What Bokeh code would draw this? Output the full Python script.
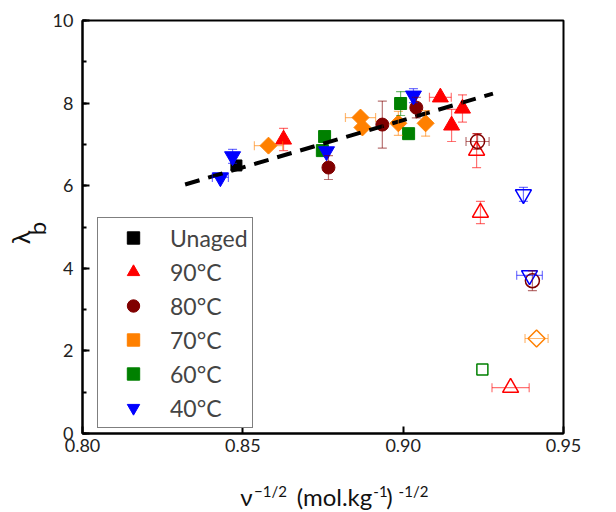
import math
from bokeh.plotting import figure
from bokeh.models import (Range1d, FixedTicker, SingleIntervalTicker, NumeralTickFormatter,
                          Whisker, TeeHead, ColumnDataSource, Legend, LegendItem, LinearAxis)
from bokeh.embed import file_html
from bokeh.resources import INLINE

# ---------------- data ----------------
unaged_x = [0.848]
unaged_y = [6.49]

t90_x = [0.8627, 0.9116, 0.9185, 0.9151]
t90_y = [7.12, 8.14, 7.87, 7.46]
t90_xerr = [0.0, 0.0034, 0.0, 0.0]
t90_yerr = [0.27, 0.0, 0.33, 0.39]
t90o_x = [0.9229, 0.9241, 0.9335]
t90o_y = [6.85, 5.35, 1.11]
t90o_xerr = [0.0, 0.0, 0.0058]
t90o_yerr = [0.41, 0.27, 0.0]

t80_x = [0.8767, 0.8935, 0.9041]
t80_y = [6.44, 7.48, 7.89]
t80_xerr = [0.0, 0.0, 0.0]
t80_yerr = [0.29, 0.57, 0.25]
t80o_x = [0.9232, 0.9403]
t80o_y = [7.07, 3.70]
t80o_xerr = [0.0036, 0.0]
t80o_yerr = [0.19, 0.24]

t70_x = [0.858, 0.8867, 0.8873, 0.8985, 0.9070]
t70_y = [6.97, 7.65, 7.41, 7.51, 7.51]
t70_xerr = [0.0044, 0.0047, 0.0, 0.0, 0.0]
t70_yerr = [0.0, 0.0, 0.0, 0.29, 0.31]
t70o_x = [0.9416]
t70o_y = [2.30]
t70o_xerr = [0.0036]
t70o_yerr = [0.0]

t60_x = [0.8755, 0.8748, 0.8992, 0.9017]
t60_y = [7.19, 6.85, 7.99, 7.26]
t60_xerr = [0.0, 0.0, 0.0, 0.0]
t60_yerr = [0.0, 0.0, 0.29, 0.0]
t60o_x = [0.9247]
t60o_y = [1.55]

t40_x = [0.8468, 0.8430, 0.8761, 0.9032]
t40_y = [6.71, 6.20, 6.83, 8.18]
t40_xerr = [0.0, 0.0025, 0.0, 0.0]
t40_yerr = [0.17, 0.0, 0.0, 0.17]
t40o_x = [0.9375, 0.9394]
t40o_y = [5.79, 3.83]
t40o_xerr = [0.0, 0.004]
t40o_yerr = [0.17, 0.0]

fit_x = [0.832, 0.928]
fit_y = [6.03, 8.23]

x_ticks = [0.80, 0.85, 0.90, 0.95]
legend_labels = ["Unaged", "90°C", "80°C", "70°C", "60°C", "40°C"]

# axis-title pieces: text -> centre position in page pixels
x_title_main = {246: "ν", 334: "(mol.kg", 389: ")"}
x_title_sup = {270: "−1/2", 380: "-1", 413: "-1/2"}
y_title_sub = {228: "b"}
y_title_main = {237: "λ"}

# ---------------- figure ----------------
FONT = "Lato"
FL, FT, FW, FH = 82, 20, 481, 413

p = figure(frame_width=FW, frame_height=FH, output_backend="svg", toolbar_location=None, title=None,
           x_range=Range1d(0.80, 0.95), y_range=Range1d(0, 10),
           min_border_left=FL, min_border_right=50, min_border_top=FT, min_border_bottom=60)
p.xgrid.visible = False
p.ygrid.visible = False
p.outline_line_color = "black"
p.outline_line_width = 2
p.outline_line_alpha = 1

xax = p.below[0]
yax = p.left[0]
xax.ticker = FixedTicker(ticks=x_ticks, minor_ticks=[])
xax.formatter = NumeralTickFormatter(format="0.00")
yax.ticker = SingleIntervalTicker(interval=2, num_minor_ticks=2)
for ax in (xax, yax):
    ax.axis_line_width = 2
    ax.axis_line_color = "black"
    ax.major_tick_in = 7
    ax.major_tick_out = 0
    ax.minor_tick_in = 4
    ax.minor_tick_out = 0
    ax.major_tick_line_width = 2
    ax.minor_tick_line_width = 2
    ax.major_label_text_font = FONT
    ax.major_label_text_font_size = "18px"
    ax.major_label_text_color = "#222222"
yax.major_label_standoff = 9
xax.major_label_standoff = 5

# pixel ranges for the title pieces
p.extra_x_ranges = {"px": Range1d(FL, FL + FW)}
p.extra_y_ranges = {"py": Range1d(FT + FH, FT)}


def title_axis(pieces, side, rng, size, standoff, vertical=False):
    kw = {"x_range_name": rng} if side == "below" else {"y_range_name": rng}
    ticks = sorted(pieces)
    ax = LinearAxis(ticker=FixedTicker(ticks=ticks, minor_ticks=[]),
                    major_label_overrides={t: pieces[t] for t in ticks},
                    axis_line_color=None, major_tick_line_color=None, minor_tick_line_color=None,
                    major_tick_in=0, major_tick_out=0, minor_tick_in=0, minor_tick_out=0,
                    major_label_standoff=standoff, major_label_text_font=FONT,
                    major_label_text_font_size=size, major_label_text_color="#111111", **kw)
    if vertical:
        ax.major_label_orientation = "vertical"
    p.add_layout(ax, side)


title_axis(x_title_sup, "below", "px", "15px", 27)
title_axis(x_title_main, "below", "px", "24px", -21)
title_axis(y_title_sub, "left", "py", "24px", -1, vertical=True)
title_axis(y_title_main, "left", "py", "25px", -16, vertical=True)


def add_err(xs, ys, xerr, yerr, color):
    xi = [i for i, e in enumerate(xerr) if e > 0]
    yi = [i for i, e in enumerate(yerr) if e > 0]
    kw = dict(line_color=color, line_alpha=0.55, line_width=1.2)
    if yi:
        src = ColumnDataSource(dict(b=[xs[i] for i in yi],
                                    lo=[ys[i] - yerr[i] for i in yi],
                                    hi=[ys[i] + yerr[i] for i in yi]))
        p.add_layout(Whisker(source=src, base="b", lower="lo", upper="hi", dimension="height",
                             level="glyph", upper_head=TeeHead(size=9, **kw),
                             lower_head=TeeHead(size=9, **kw), **kw))
    if xi:
        src = ColumnDataSource(dict(b=[ys[i] for i in xi],
                                    lo=[xs[i] - xerr[i] for i in xi],
                                    hi=[xs[i] + xerr[i] for i in xi]))
        p.add_layout(Whisker(source=src, base="b", lower="lo", upper="hi", dimension="width",
                             level="glyph", upper_head=TeeHead(size=9, **kw),
                             lower_head=TeeHead(size=9, **kw), **kw))


RED, DRED, ORANGE, GREEN, BLUE = "#ff0000", "#800000", "#ff8000", "#008000", "#0000ff"

add_err(t90_x, t90_y, t90_xerr, t90_yerr, RED)
add_err(t90o_x, t90o_y, t90o_xerr, t90o_yerr, RED)
add_err(t80_x, t80_y, t80_xerr, t80_yerr, DRED)
add_err(t80o_x, t80o_y, t80o_xerr, t80o_yerr, DRED)
add_err(t70_x, t70_y, t70_xerr, t70_yerr, ORANGE)
add_err(t70o_x, t70o_y, t70o_xerr, t70o_yerr, ORANGE)
add_err(t60_x, t60_y, t60_xerr, t60_yerr, GREEN)
add_err(t40_x, t40_y, t40_xerr, t40_yerr, BLUE)
add_err(t40o_x, t40o_y, t40o_xerr, t40o_yerr, BLUE)

# open symbols
p.scatter(t90o_x, t90o_y, marker="triangle", size=16, fill_color=None, line_color=RED, line_width=1.5)
p.scatter(t80o_x, t80o_y, marker="circle", size=14, fill_color=None, line_color=DRED, line_width=1.5)
p.scatter(t70o_x, t70o_y, marker="square", angle=math.pi / 4, size=12, fill_color=None,
          line_color=ORANGE, line_width=1.5)
p.scatter(t60o_x, t60o_y, marker="square", size=11, fill_color=None, line_color=GREEN, line_width=1.5)
p.scatter(t40o_x, t40o_y, marker="inverted_triangle", size=16, fill_color=None, line_color=BLUE, line_width=1.5)

# filled symbols
r_un = p.scatter(unaged_x, unaged_y, marker="square", size=11, color="black")
r90 = p.scatter(t90_x, t90_y, marker="triangle", size=16, color=RED)
r80 = p.scatter(t80_x, t80_y, marker="circle", size=13, color=DRED)
r70 = p.scatter(t70_x, t70_y, marker="square", angle=math.pi / 4, size=12, color=ORANGE)
r60 = p.scatter(t60_x, t60_y, marker="square", size=12, color=GREEN)
r40 = p.scatter(t40_x, t40_y, marker="inverted_triangle", size=16, color=BLUE)

# linear fit
p.line(fit_x, fit_y, line_color="black", line_width=4, line_dash="15 9")

legend = Legend(items=[LegendItem(label=l, renderers=[r]) for l, r in
                       zip(legend_labels, [r_un, r90, r80, r70, r60, r40])],
                location=(15, 5), margin=0, padding=4, spacing=3,
                glyph_width=62, glyph_height=31, label_height=31, label_standoff=6,
                label_text_font=FONT, label_text_font_size="23px",
                border_line_color="black", border_line_width=1,
                background_fill_color="white", background_fill_alpha=1)
p.add_layout(legend, "center")

open("out.html", "w").write(file_html(p, INLINE))
